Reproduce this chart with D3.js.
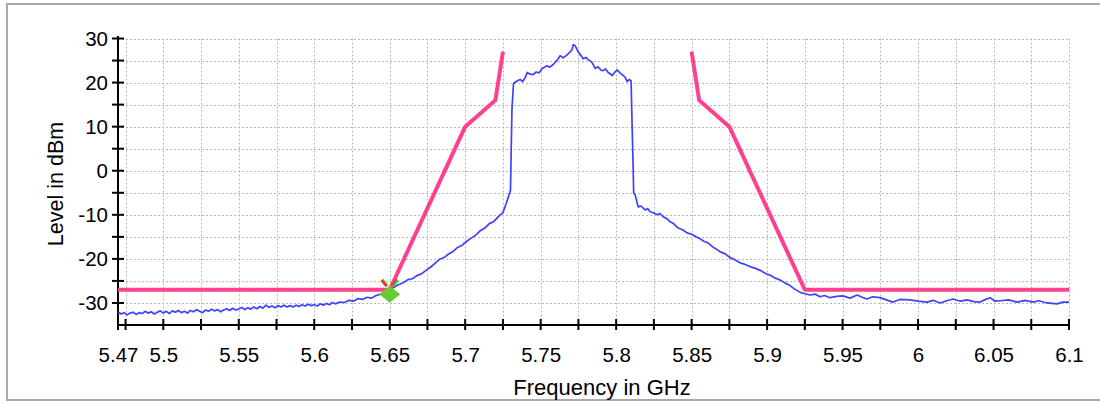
<!DOCTYPE html>
<html><head><meta charset="utf-8">
<script src="https://cdn.jsdelivr.net/npm/d3@7"></script>
<style>
body{margin:0;background:#fff}
svg{display:block}
text{font-family:"Liberation Sans",Arial,sans-serif;fill:#000}
</style>
</head><body>
<svg id="c" width="1100" height="404"></svg>
<script>
// ---------- data ----------
const xDomain = [5.47, 6.1];
const yDomain = [-35, 30];
const xTickValues = [5.47, 5.5, 5.55, 5.6, 5.65, 5.7, 5.75, 5.8, 5.85, 5.9, 5.95, 6.0, 6.05, 6.1];
const xTickLabels = ["5.47", "5.5", "5.55", "5.6", "5.65", "5.7", "5.75", "5.8", "5.85", "5.9", "5.95", "6", "6.05", "6.1"];
const xGridValues = [5.475, 5.5, 5.525, 5.55, 5.575, 5.6, 5.625, 5.65, 5.675, 5.7, 5.725, 5.75, 5.775, 5.8, 5.825, 5.85, 5.875, 5.9, 5.925, 5.95, 5.975, 6.0, 6.025, 6.05, 6.075, 6.1];
const yTickValues = [-30, -20, -10, 0, 10, 20, 30];
const yTickLabels = ["-30", "-20", "-10", "0", "10", "20", "30"];
const yGridValues = [-30, -25, -20, -15, -10, -5, 0, 5, 10, 15, 20, 25, 30];
const xTitle = "Frequency in GHz";
const yTitle = "Level in dBm";

const maskLeft = [[5.47, -27], [5.65, -27], [5.70, 10], [5.72, 16], [5.725, 27]];
const maskRight = [[5.85, 27], [5.855, 16], [5.875, 10], [5.925, -27], [6.1, -27]];
const markerPoint = [5.65, -28];

const trace = [
[5.470,-32.0],[5.472,-32.5],[5.474,-32.2],[5.476,-32.7],[5.478,-32.3],[5.480,-32.1],[5.482,-32.6],[5.484,-32.2],
[5.486,-32.4],[5.488,-31.9],[5.490,-32.3],[5.492,-32.0],[5.494,-32.5],[5.496,-32.1],[5.498,-31.8],[5.500,-32.3],
[5.502,-31.9],[5.504,-32.4],[5.506,-31.8],[5.508,-32.1],[5.510,-31.7],[5.512,-32.2],[5.514,-31.9],[5.516,-32.3],
[5.518,-31.7],[5.520,-32.0],[5.522,-31.5],[5.524,-31.9],[5.526,-32.2],[5.528,-31.6],[5.530,-31.9],[5.532,-31.4],
[5.534,-31.8],[5.536,-31.5],[5.538,-32.0],[5.540,-31.6],[5.542,-31.3],[5.544,-31.7],[5.546,-31.2],[5.548,-31.6],
[5.550,-31.4],[5.552,-31.0],[5.554,-31.5],[5.556,-31.1],[5.558,-31.4],[5.560,-30.9],[5.562,-31.3],[5.564,-30.8],
[5.566,-31.2],[5.568,-30.5],[5.570,-31.0],[5.572,-30.7],[5.574,-31.1],[5.576,-30.6],[5.578,-30.9],[5.580,-30.5],
[5.582,-30.9],[5.584,-30.6],[5.586,-30.9],[5.588,-30.5],[5.590,-30.8],[5.592,-30.4],[5.594,-30.7],[5.596,-30.3],
[5.598,-30.6],[5.600,-30.4],[5.602,-30.7],[5.604,-30.2],[5.606,-30.5],[5.608,-30.1],[5.610,-30.4],[5.612,-29.9],
[5.614,-30.2],[5.617,-29.8],[5.620,-29.9],[5.623,-29.4],[5.626,-29.6],[5.629,-29.0],[5.632,-29.2],[5.635,-28.7],
[5.638,-28.9],[5.641,-28.3],[5.644,-28.0],[5.647,-27.5],[5.650,-27.1],[5.653,-26.4],[5.656,-25.8],[5.659,-25.4],
[5.662,-24.7],[5.665,-24.5],[5.668,-23.8],[5.671,-23.4],[5.674,-22.6],[5.677,-21.9],[5.680,-21.0],[5.683,-20.1],
[5.686,-19.7],[5.689,-18.9],[5.692,-18.3],[5.695,-17.4],[5.698,-16.9],[5.701,-16.0],[5.704,-15.3],[5.707,-14.6],
[5.710,-13.6],[5.713,-13.0],[5.716,-12.0],[5.719,-11.5],[5.722,-10.4],[5.725,-9.5],[5.727,-7.6],[5.729,-5.5],
[5.730,-4.5],[5.7305,5.0],[5.731,14.0],[5.732,19.8],[5.734,20.3],[5.7364,20.7],[5.738,20.2],[5.740,21.3],
[5.7411,22.3],[5.743,21.9],[5.745,21.8],[5.747,22.4],[5.749,22.2],[5.751,23.2],[5.7543,23.8],[5.756,23.5],
[5.7583,24.1],[5.761,25.1],[5.7629,26.1],[5.765,25.6],[5.7675,26.3],[5.769,26.8],[5.7709,27.5],[5.7715,28.6],
[5.7728,28.4],[5.7748,27.0],[5.777,26.0],[5.7781,25.4],[5.780,25.7],[5.7815,25.2],[5.784,24.6],[5.7861,23.2],
[5.788,23.6],[5.790,22.8],[5.7914,22.7],[5.793,23.1],[5.7947,22.3],[5.796,22.0],[5.7974,21.6],[5.799,22.3],
[5.8007,22.9],[5.8025,22.2],[5.8040,21.8],[5.806,21.2],[5.8073,20.2],[5.8086,20.7],[5.8099,20.4],[5.8106,10.0],
[5.8113,0.2],[5.8116,-5.0],[5.8126,-5.5],[5.8146,-8.2],[5.8165,-8.0],[5.8192,-8.9],[5.821,-8.6],[5.8225,-9.3],
[5.825,-9.6],[5.8272,-10.0],[5.829,-9.7],[5.8311,-10.4],[5.834,-11.0],[5.8358,-11.6],[5.838,-12.0],[5.8411,-13.0],
[5.844,-13.4],[5.847,-14.1],[5.850,-14.4],[5.853,-15.0],[5.8556,-15.4],[5.858,-16.0],[5.861,-16.4],[5.864,-17.3],
[5.867,-17.9],[5.8689,-18.4],[5.872,-18.8],[5.875,-19.6],[5.878,-20.1],[5.8821,-20.9],[5.885,-21.2],[5.889,-21.8],
[5.892,-22.1],[5.8954,-22.6],[5.899,-23.3],[5.902,-23.7],[5.905,-24.3],[5.9086,-24.8],[5.912,-25.5],[5.915,-26.0],
[5.918,-26.8],[5.9219,-27.6],[5.925,-27.9],[5.9285,-28.2],[5.932,-28.0],[5.9351,-28.6],[5.938,-28.3],[5.9417,-28.8],
[5.946,-28.5],[5.9503,-28.4],[5.955,-28.9],[5.9596,-28.2],[5.963,-28.7],[5.9662,-29.1],[5.970,-28.6],[5.9748,-28.8],
[5.979,-29.3],[5.9834,-29.8],[5.988,-29.2],[5.9947,-29.3],[6.000,-29.6],[6.0060,-29.8],[6.010,-29.4],[6.0146,-30.0],
[6.019,-29.5],[6.0232,-29.1],[6.028,-29.6],[6.0325,-29.3],[6.037,-29.7],[6.0411,-29.8],[6.044,-29.3],[6.0477,-28.8],
[6.051,-29.6],[6.0543,-29.5],[6.060,-29.3],[6.0656,-29.8],[6.071,-29.4],[6.0762,-29.8],[6.080,-29.5],[6.0854,-30.0],
[6.0921,-30.2],[6.096,-29.8],[6.1,-29.8]
];

// ---------- drawing ----------
const svg = d3.select("#c");
const x = d3.scaleLinear().domain(xDomain).range([118, 1069]);
const y = d3.scaleLinear().domain(yDomain).range([325, 38.5]);

// frame
svg.append("rect").attr("x", 7).attr("y", 4).attr("width", 1110).attr("height", 396)
  .attr("fill", "#fff").attr("stroke", "#a9a9a9").attr("stroke-width", 2);

// grid
const grid = svg.append("g").attr("stroke", "#b8b8b8").attr("stroke-width", 1).attr("stroke-dasharray", "2,2");
grid.selectAll("line.v").data(xGridValues).join("line").attr("class", "v")
  .attr("x1", d => Math.round(x(d)) + 0.5).attr("x2", d => Math.round(x(d)) + 0.5)
  .attr("y1", y(yDomain[1])).attr("y2", y(yDomain[0]));
grid.selectAll("line.h").data(yGridValues).join("line").attr("class", "h")
  .attr("y1", d => Math.round(y(d)) + 0.5).attr("y2", d => Math.round(y(d)) + 0.5)
  .attr("x1", x(xDomain[0])).attr("x2", x(xDomain[1]));

// axes
const xAxis = d3.axisBottom(x).tickValues(xTickValues).tickFormat((d, i) => xTickLabels[i]).tickSize(0).tickPadding(22);
const gx = svg.append("g").attr("transform", `translate(0,${y(yDomain[0])})`).call(xAxis);
gx.select(".domain").remove();
gx.selectAll("text").attr("font-size", 20.5).attr("font-family", "Liberation Sans, Arial, sans-serif");

const yAxis = d3.axisLeft(y).tickValues(yTickValues).tickFormat((d, i) => yTickLabels[i]).tickSize(0).tickPadding(10);
const gy = svg.append("g").attr("transform", `translate(${x(xDomain[0])},0)`).call(yAxis);
gy.select(".domain").remove();
gy.selectAll("text").attr("font-size", 20.5).attr("font-family", "Liberation Sans, Arial, sans-serif");

// axis lines & cross ticks
const ax = svg.append("g").attr("stroke", "#000").attr("stroke-width", 2);
ax.append("line").attr("x1", x(xDomain[0])).attr("x2", x(xDomain[0])).attr("y1", y(yDomain[1]) - 2.5).attr("y2", y(yDomain[0]) + 5);
ax.append("line").attr("x1", x(xDomain[0]) - 1).attr("x2", x(xDomain[1]) + 1).attr("y1", y(yDomain[0])).attr("y2", y(yDomain[0]));
ax.selectAll("line.xt").data([xDomain[0], ...xGridValues]).join("line").attr("class", "xt")
  .attr("x1", d => x(d)).attr("x2", d => x(d)).attr("y1", y(yDomain[0]) - 6).attr("y2", y(yDomain[0]) + 5);
ax.selectAll("line.yt").data(yGridValues).join("line").attr("class", "yt")
  .attr("x1", x(xDomain[0]) - 6).attr("x2", x(xDomain[0]) + 6).attr("y1", d => y(d)).attr("y2", d => y(d));

// titles
svg.append("text").attr("x", 602).attr("y", 395).attr("text-anchor", "middle").attr("font-size", 22).text(xTitle);
svg.append("text").attr("transform", "translate(63,184) rotate(-90)").attr("text-anchor", "middle").attr("font-size", 21.5).text(yTitle);

// trace
const line = d3.line().x(d => x(d[0])).y(d => y(d[1]));
svg.append("path").datum(trace).attr("d", line).attr("fill", "none")
  .attr("stroke", "#4040ff").attr("stroke-width", 1.7).attr("stroke-linejoin", "round");

// mask
[maskLeft, maskRight].forEach(m => {
  svg.append("path").datum(m).attr("d", line).attr("fill", "none")
    .attr("stroke", "#ff4677").attr("stroke-width", 4).attr("stroke-linejoin", "round");
  svg.append("path").datum(m).attr("d", line).attr("fill", "none")
    .attr("stroke", "#ff33d0").attr("stroke-width", 1.6).attr("stroke-dasharray", "3,2");
});

// marker
const mx = x(markerPoint[0]), my = y(markerPoint[1]);
const mk = svg.append("g");
mk.append("line").attr("x1", mx - 8).attr("y1", my - 14).attr("x2", mx - 3).attr("y2", my - 8).attr("stroke", "#ff2020").attr("stroke-width", 3);
mk.append("line").attr("x1", mx - 7).attr("y1", my - 15).attr("x2", mx - 2).attr("y2", my - 9).attr("stroke", "#33cc33").attr("stroke-width", 1.2);
mk.append("line").attr("x1", mx + 8).attr("y1", my - 14).attr("x2", mx + 3).attr("y2", my - 8).attr("stroke", "#33cc33").attr("stroke-width", 3);
mk.append("line").attr("x1", mx + 7).attr("y1", my - 15).attr("x2", mx + 2).attr("y2", my - 9).attr("stroke", "#ff2020").attr("stroke-width", 1.2);
mk.append("path").attr("d", `M${mx},${my - 8.5}L${mx + 10.5},${my}L${mx},${my + 8.5}L${mx - 10.5},${my}Z`)
  .attr("fill", "#66cc33");
</script>
</body></html>
